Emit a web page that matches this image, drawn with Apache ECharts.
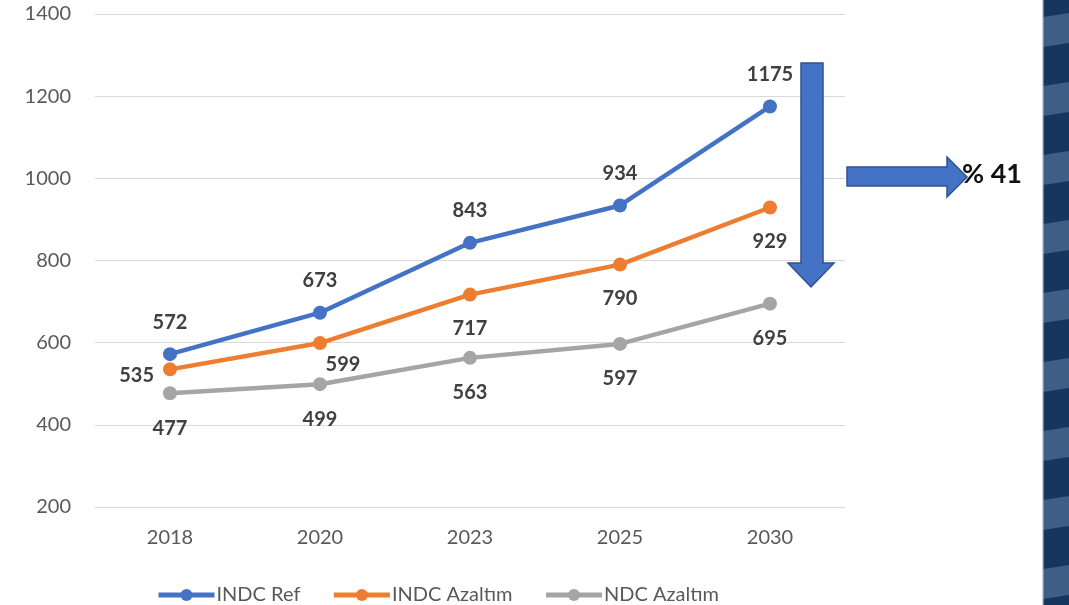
<!DOCTYPE html>
<html>
<head>
<meta charset="utf-8">
<script src="https://cdn.jsdelivr.net/npm/echarts@6/dist/echarts.min.js"></script>
<style>
html,body{margin:0;padding:0;background:#fff;}
#chart{width:1069px;height:605px;}
</style>
</head>
<body>
<div id="chart"></div>
<script>
var categories = ['2018', '2020', '2023', '2025', '2030'];
var indcRef = [572, 673, 843, 934, 1175];
var indcAzaltim = [535, 599, 717, 790, 929];
var ndcAzaltim = [477, 499, 563, 597, 695];
var seriesNames = ['INDC Ref', 'INDC Azaltım', 'NDC Azaltım'];
var yTicks = { min: 200, max: 1400, interval: 200 };

var FONT = 'Lato';
var chart = echarts.init(document.getElementById('chart'), null, { renderer: 'canvas' });

var labelBase = { show: true, fontFamily: FONT, fontSize: 20, fontWeight: 'bold', color: '#404040' };

// decorative striped band on the right
var graphics = [];
graphics.push({ type: 'rect', z: 90, shape: { x: 1043, y: 0, width: 26, height: 605 }, style: { fill: '#16355f' } });
for (var k = -1; k < 10; k++) {
  var y0 = 15 + k * 69;
  graphics.push({
    type: 'polygon', z: 91,
    shape: { points: [[1043, y0 + 2], [1069, y0 - 2], [1069, y0 + 28], [1043, y0 + 32]] },
    style: { fill: '#3f5e86' }
  });
}
graphics.push({ type: 'rect', z: 92, shape: { x: 1042, y: 0, width: 1.5, height: 605 }, style: { fill: '#c8ced8' } });

graphics.push(
  {
    type: 'polygon',
    shape: { points: [[801, 63], [823, 63], [823, 263], [834, 263], [811, 287], [788, 263], [801, 263]] },
    style: { fill: '#4472c4', stroke: '#2f528f', lineWidth: 1.5 },
    z: 100
  },
  {
    type: 'polygon',
    shape: { points: [[847, 167], [947, 167], [947, 157], [967, 177], [947, 197], [947, 186], [847, 186]] },
    style: { fill: '#4472c4', stroke: '#2f528f', lineWidth: 1.5 },
    z: 100
  },
  {
    type: 'text',
    left: 962, top: 161,
    style: { text: '% 41', fontFamily: FONT, fontSize: 27, fontWeight: 'bold', fill: '#111111' },
    z: 101
  }
);

var option = {
  backgroundColor: '#ffffff',
  animation: false,
  grid: { left: 95, right: 224, top: 14, bottom: 98, containLabel: false },
  legend: {
    left: 151, top: 580,
    itemWidth: 56, itemHeight: 15, itemGap: 31,
    lineStyle: { width: 5 },
    textStyle: { fontFamily: FONT, fontSize: 20, color: '#595959', padding: [0, 0, 0, -3] },
    data: seriesNames
  },
  xAxis: {
    type: 'category',
    data: categories,
    boundaryGap: true,
    axisLine: { show: true, lineStyle: { color: '#d9d9d9', width: 1 } },
    axisTick: { show: false },
    axisLabel: { fontFamily: FONT, fontSize: 20, color: '#595959', margin: 21 }
  },
  yAxis: {
    type: 'value',
    min: yTicks.min, max: yTicks.max, interval: yTicks.interval,
    axisLine: { show: false },
    axisTick: { show: false },
    splitLine: { lineStyle: { color: '#d9d9d9', width: 1 } },
    axisLabel: { fontFamily: FONT, fontSize: 20, color: '#595959', margin: 24, formatter: function (v) { return String(v); } }
  },
  series: [
    {
      name: seriesNames[0], type: 'line', data: indcRef,
      symbol: 'circle', symbolSize: 14,
      lineStyle: { color: '#4472c4', width: 4.5 },
      itemStyle: { color: '#4472c4' },
      label: Object.assign({}, labelBase, { position: 'top', distance: 15 })
    },
    {
      name: seriesNames[1], type: 'line',
      data: indcAzaltim.map(function (v, i) {
        if (i === 0) return { value: v, label: { position: 'left', distance: 9, offset: [0, 6] } };
        if (i === 1) return { value: v, label: { position: 'bottom', distance: 18, offset: [23, -14] } };
        return v;
      }),
      symbol: 'circle', symbolSize: 14,
      lineStyle: { color: '#ed7d31', width: 4.5 },
      itemStyle: { color: '#ed7d31' },
      label: Object.assign({}, labelBase, { position: 'bottom', distance: 17 })
    },
    {
      name: seriesNames[2], type: 'line', data: ndcAzaltim,
      symbol: 'circle', symbolSize: 14,
      lineStyle: { color: '#a5a5a5', width: 4.5 },
      itemStyle: { color: '#a5a5a5' },
      label: Object.assign({}, labelBase, { position: 'bottom', distance: 18 })
    }
  ],
  graphic: graphics
};
chart.setOption(option);
</script>
</body>
</html>
